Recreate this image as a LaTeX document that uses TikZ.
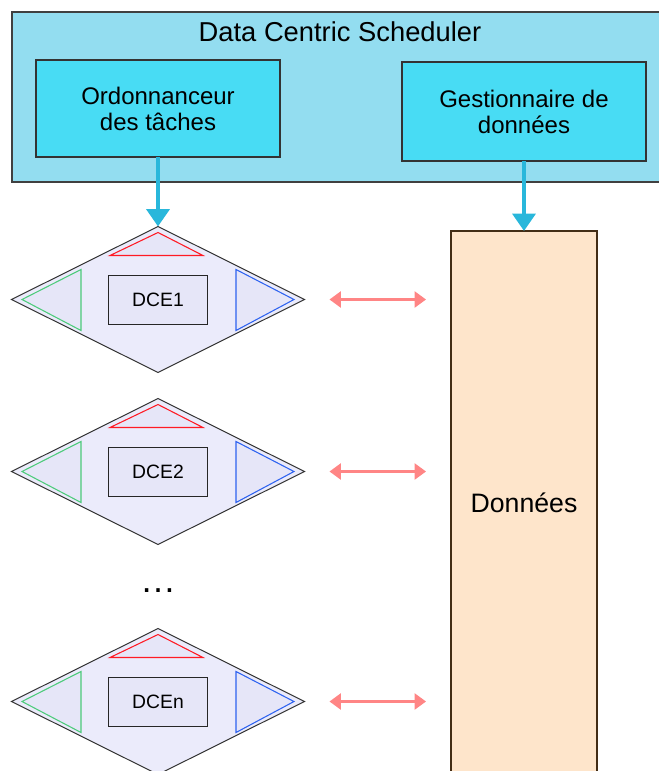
\documentclass[tikz,border=0pt]{standalone}
\usepackage{fontspec}
\setmainfont{Liberation Sans}
\usepackage[usenames,dvipsnames]{xcolor}
\usepackage{tikz}
\usetikzlibrary{shapes.geometric,arrows.meta,positioning}

\definecolor{schedcol}{HTML}{93DDF0}
\definecolor{modcol}{HTML}{48DCF4}
\definecolor{feedcol}{HTML}{29B7DB}
\definecolor{dcecol}{HTML}{EBEBFB}
\definecolor{boxcol}{HTML}{E6E6F8}
\definecolor{storecol}{HTML}{FEE5CB}
\definecolor{linkcol}{HTML}{FF8585}
\definecolor{tred}{HTML}{FF1A24}
\definecolor{tgreen}{HTML}{4CCB7A}
\definecolor{tblue}{HTML}{2D62F0}

\begin{document}
\begin{tikzpicture}[x=0.75pt,y=-0.75pt,node distance=129pt,on grid]
  \tikzstyle{every node}=[outer sep=0pt,align=center]
  \tikzstyle{module}=[draw=black!80,line width=0.8pt,fill=modcol,minimum width=183pt,font=\fontsize{18}{19.5}\selectfont]
  \tikzstyle{dce}=[diamond,draw=black!80,line width=0.75pt,fill=dcecol,inner sep=0pt,minimum width=219.75pt,minimum height=109.5pt]
  \tikzstyle{dcebox}=[draw=black!85,line width=0.75pt,fill=boxcol,minimum width=74.25pt,minimum height=36.75pt,font=\fontsize{14.5}{16}\selectfont]
  \tikzstyle{feed}=[->,color=feedcol,line width=3.2pt,>={Triangle[length=13pt,width=17pt]}]
  \tikzstyle{link}=[<->,color=linkcol,line width=1.6pt,>={Triangle[length=8.5pt,width=12pt]},shorten <=18.75pt,shorten >=18.75pt]
  \tikzstyle{tri}=[line width=0.8pt,fill=boxcol,line join=miter]
  \useasboundingbox (0,0) rectangle (659,771);

  % scheduler and its two modules
  \node[draw=black!75,line width=0.8pt,fill=schedcol,minimum width=507pt,minimum height=127.5pt] (dcs) at (350,97) {};
  \node[anchor=base,font=\fontsize{20.5}{24}\selectfont] (title) at (340,41) {Data Centric Scheduler};
  \node[module,minimum height=72.75pt] (ord) at (158,108.5) {Ordonnanceur\\des tâches};
  \node[module,minimum height=74.25pt] (gest) at (524,111.5) {Gestionnaire de\\données};

  % data store
  \node[draw=black!65!brown,line width=0.8pt,fill=storecol,minimum width=109.5pt,minimum height=408pt,font=\fontsize{20}{24}\selectfont] (data) at (524,503) {Données};

  % execution engines
  \node[dce] (dce1) at (158,299.5) {};
  \node[dce] (dce2) [below=of dce1] {};
  \node[dce] (dcen) [below=172.5pt of dce2] {};
  \node[anchor=base,font=\fontsize{27}{27}\selectfont] (dots) at (158,592) {…};

  \foreach \n in {1,2,n} {
    \draw[tri,draw=tred] ([shift={(0,-67)}]dce\n.center) -- ++(-48,23) -- ++(93,0) -- cycle;
    \draw[tri,draw=tgreen] ([shift={(-136,0)}]dce\n.center) -- ++(59,-30) -- ++(0,61) -- cycle;
    \draw[tri,draw=tblue] ([shift={(136,0)}]dce\n.center) -- ++(-58,-30) -- ++(0,61) -- cycle;
    \node[dcebox] (box\n) at ([shift={(0,0.5)}]dce\n.center) {DCE\n};
    \draw[link] (dce\n.east) -- (dce\n.east -| data.west);
  }

  \path[feed]
    (ord) edge (dce1)
    (gest) edge (data);
\end{tikzpicture}
\end{document}
